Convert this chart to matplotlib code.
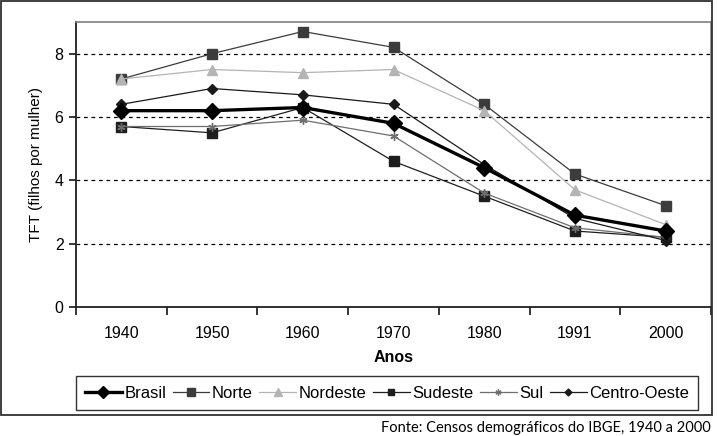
import matplotlib
matplotlib.use("Agg")
from matplotlib import pyplot as plt
from matplotlib.patches import Rectangle

plt.rcParams['font.family'] = ['Liberation Sans', 'DejaVu Sans']

anos = ["1940", "1950", "1960", "1970", "1980", "1991", "2000"]

brasil = [6.2, 6.2, 6.3, 5.8, 4.4, 2.9, 2.4]
norte = [7.2, 8.0, 8.7, 8.2, 6.4, 4.2, 3.2]
nordeste = [7.2, 7.5, 7.4, 7.5, 6.2, 3.7, 2.6]
sudeste = [5.7, 5.5, 6.3, 4.6, 3.5, 2.4, 2.2]
sul = [5.7, 5.7, 5.9, 5.4, 3.6, 2.5, 2.2]
centro_oeste = [6.4, 6.9, 6.7, 6.4, 4.5, 2.8, 2.1]

W, H = 717, 436
fig = plt.figure(figsize=(W / 100, H / 100), dpi=100)

# outer frame around chart
fig.patches.append(Rectangle((1 / W, 21 / H), 711 / W, 414 / H, transform=fig.transFigure,
                             fill=False, edgecolor="#303030", linewidth=1.3))

ax = fig.add_axes([76 / W, (H - 307) / H, 635 / W, 285 / H])
x = list(range(len(anos)))

series = [
    ("Norte", norte, dict(color="#3c3c3c", marker="s", markersize=7.5, linewidth=0.9)),
    ("Nordeste", nordeste, dict(color="#b4b4b4", marker="^", markersize=7.5, linewidth=0.9)),
    ("Sudeste", sudeste, dict(color="#1e1e1e", marker="s", markersize=7, linewidth=0.9)),
    ("Sul", sul, dict(color="#6e6e6e", marker=(6, 2, 0), markersize=6, linewidth=0.9)),
    ("Centro-Oeste", centro_oeste, dict(color="#1a1a1a", marker="D", markersize=5, linewidth=0.9)),
]
handles = {}
for name, vals, st in series:
    handles[name], = ax.plot(x, vals, label=name, zorder=3, **st)
handles["Brasil"], = ax.plot(x, brasil, color="black", marker="D", markersize=8.5,
                             linewidth=2.4, label="Brasil", zorder=5)

ax.set_xlim(-0.5, len(anos) - 0.5)
ax.set_ylim(0, 9)
ax.set_yticks([0, 2, 4, 6, 8])
ax.set_xticks(x)
ax.set_xticklabels(anos)
ax.set_xticks([i - 0.5 for i in range(len(anos) + 1)], minor=True)
ax.tick_params(axis="x", which="major", length=0, pad=14, labelsize=11.5)
ax.tick_params(axis="x", which="minor", length=6, width=1.1, direction="out")
ax.tick_params(axis="y", length=5, width=1.1, labelsize=11.5, pad=4)

for yv in [2, 4, 6, 8]:
    ax.axhline(yv, color="black", linestyle=(0, (3, 3)), linewidth=0.9, zorder=1)

for s in ["top", "right"]:
    ax.spines[s].set_color("#808080")
    ax.spines[s].set_linewidth(1.2)
for s in ["left", "bottom"]:
    ax.spines[s].set_color("#202020")
    ax.spines[s].set_linewidth(1.3)

ax.set_ylabel("TFT (filhos por mulher)", fontsize=11, labelpad=8)
ax.set_xlabel("Anos", fontsize=11.5, fontweight="bold", labelpad=6)

order = ["Brasil", "Norte", "Nordeste", "Sudeste", "Sul", "Centro-Oeste"]
leg = fig.legend([handles[n] for n in order], order, loc="center",
                 bbox_to_anchor=(387 / W, (H - 393) / H), ncol=6, fontsize=12,
                 frameon=True, fancybox=False, handlelength=2.2, handletextpad=0.15,
                 columnspacing=0.4, borderpad=0.55, borderaxespad=0, markerscale=0.7)
leg.get_frame().set_edgecolor("black")
leg.get_frame().set_linewidth(1.0)

fig.text(711 / W, (H - 428) / H, "Fonte: Censos demográficos do IBGE, 1940 a 2000",
         ha="right", va="center", fontsize=10.5, family=["Lato", "DejaVu Sans"])

fig.savefig("out.png", dpi=100)
